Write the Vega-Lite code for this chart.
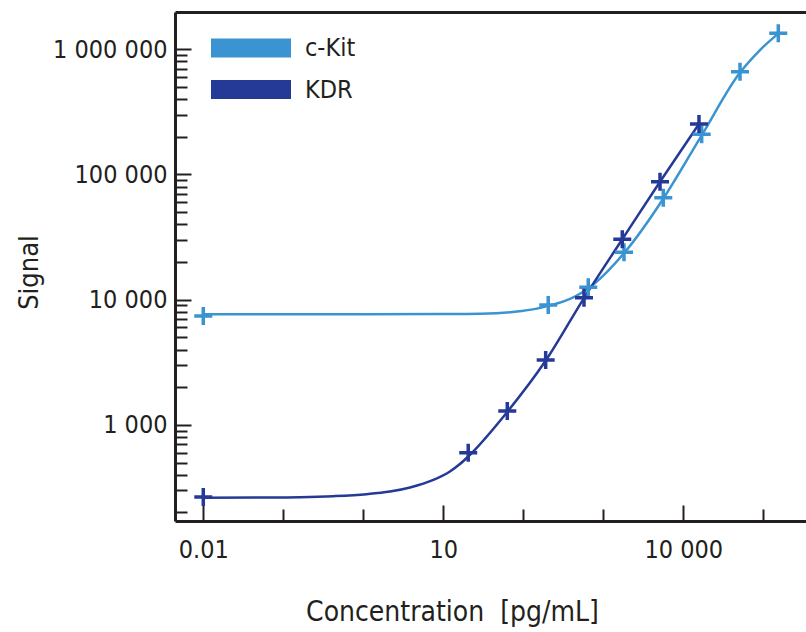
{
  "$schema": "https://vega.github.io/schema/vega-lite/v6.json",
  "width": 631,
  "height": 509,
  "autosize": {"type": "none"},
  "padding": {"left": 175, "top": 12, "right": 0, "bottom": 111},
  "background": "white",
  "config": {
    "view": {"stroke": null},
    "font": "DejaVu Sans Condensed",
    "axis": {
      "grid": false,
      "domainColor": "#231f20",
      "domainWidth": 3,
      "tickColor": "#231f20",
      "tickWidth": 2,
      "labelColor": "#231f20",
      "titleColor": "#231f20",
      "labelFont": "DejaVu Sans Condensed",
      "titleFont": "DejaVu Sans Condensed",
      "labelFontSize": 25,
      "titleFontWeight": "normal"
    },
    "legend": {
      "labelFont": "DejaVu Sans Condensed",
      "labelColor": "#231f20"
    }
  },
  "datasets": {
    "curves": [
      {"conc": 0.01, "signal": 7640, "series": "c-Kit"},
      {"conc": 0.1, "signal": 7640, "series": "c-Kit"},
      {"conc": 1, "signal": 7645, "series": "c-Kit"},
      {"conc": 10, "signal": 7680, "series": "c-Kit"},
      {"conc": 28.8, "signal": 7730, "series": "c-Kit"},
      {"conc": 74, "signal": 7980, "series": "c-Kit"},
      {"conc": 148, "signal": 8480, "series": "c-Kit"},
      {"conc": 205, "signal": 8950, "series": "c-Kit"},
      {"conc": 313, "signal": 9640, "series": "c-Kit"},
      {"conc": 649, "signal": 12300, "series": "c-Kit"},
      {"conc": 1815, "signal": 23500, "series": "c-Kit"},
      {"conc": 5623, "signal": 64000, "series": "c-Kit"},
      {"conc": 16980, "signal": 205000, "series": "c-Kit"},
      {"conc": 51170, "signal": 650000, "series": "c-Kit"},
      {"conc": 91000, "signal": 984000, "series": "c-Kit"},
      {"conc": 154000, "signal": 1330000, "series": "c-Kit"},
      {"conc": 0.01, "signal": 262, "series": "KDR"},
      {"conc": 0.05, "signal": 263, "series": "KDR"},
      {"conc": 0.162, "signal": 265, "series": "KDR"},
      {"conc": 0.422, "signal": 270, "series": "KDR"},
      {"conc": 1.1, "signal": 280, "series": "KDR"},
      {"conc": 2.16, "signal": 294, "series": "KDR"},
      {"conc": 3.84, "signal": 317, "series": "KDR"},
      {"conc": 7.52, "signal": 364, "series": "KDR"},
      {"conc": 12.1, "signal": 425, "series": "KDR"},
      {"conc": 16, "signal": 485, "series": "KDR"},
      {"conc": 20.5, "signal": 560, "series": "KDR"},
      {"conc": 63, "signal": 1270, "series": "KDR"},
      {"conc": 190, "signal": 3250, "series": "KDR"},
      {"conc": 574, "signal": 10300, "series": "KDR"},
      {"conc": 1728, "signal": 30350, "series": "KDR"},
      {"conc": 5117, "signal": 87470, "series": "KDR"},
      {"conc": 15710, "signal": 252500, "series": "KDR"}
    ],
    "points": [
      {"conc": 0.01, "signal": 7413, "series": "c-Kit"},
      {"conc": 205, "signal": 9080, "series": "c-Kit"},
      {"conc": 649, "signal": 12560, "series": "c-Kit"},
      {"conc": 1815, "signal": 23880, "series": "c-Kit"},
      {"conc": 5623, "signal": 65150, "series": "c-Kit"},
      {"conc": 16980, "signal": 209000, "series": "c-Kit"},
      {"conc": 51170, "signal": 661000, "series": "c-Kit"},
      {"conc": 154000, "signal": 1337000, "series": "c-Kit"},
      {"conc": 0.01, "signal": 266, "series": "KDR"},
      {"conc": 20.5, "signal": 601, "series": "KDR"},
      {"conc": 63.1, "signal": 1294, "series": "KDR"},
      {"conc": 190.5, "signal": 3304, "series": "KDR"},
      {"conc": 574, "signal": 10370, "series": "KDR"},
      {"conc": 1728, "signal": 30350, "series": "KDR"},
      {"conc": 5117, "signal": 87470, "series": "KDR"},
      {"conc": 15710, "signal": 252500, "series": "KDR"}
    ]
  },
  "encoding": {
    "y": {
      "field": "signal",
      "type": "quantitative",
      "scale": {"type": "log", "domain": [171, 1980000], "nice": false, "zero": false},
      "axis": {
        "orient": "left",
        "title": "Signal",
        "titleFontSize": 27,
        "titleAngle": -90,
        "titleAlign": "center",
        "titleBaseline": "middle",
        "titleX": -146,
        "titleY": 260,
        "values": [200,300,400,500,600,700,800,900,1000,2000,3000,4000,5000,6000,7000,8000,9000,10000,20000,30000,40000,50000,60000,70000,80000,90000,100000,200000,300000,400000,500000,600000,700000,800000,900000,1000000],
        "labelExpr": "datum.value == 1000 ? '1 000' : datum.value == 10000 ? '10 000' : datum.value == 100000 ? '100 000' : datum.value == 1000000 ? '1 000 000' : ''",
        "tickSize": {"condition": {"test": "datum.value == 1000 || datum.value == 10000 || datum.value == 100000 || datum.value == 1000000", "value": -16}, "value": -12},
        "labelPadding": 24,
        "labelAlign": "right",
        "labelBaseline": "middle",
        "labelOverlap": false,
        "labelBound": false
      }
    }
  },
  "layer": [
    {
      "data": {"name": "curves"},
      "mark": {"type": "line", "interpolate": "monotone", "strokeWidth": 2.5, "clip": true},
      "encoding": {
        "x": {
          "field": "conc",
          "type": "quantitative",
          "scale": {"type": "log", "domain": [0.00443, 342000], "nice": false, "zero": false},
          "axis": {
            "orient": "bottom",
            "title": "Concentration\u00a0 [pg/mL]",
            "titleFontSize": 28,
            "titleX": 277,
            "titleY": 99,
            "titleAlign": "center",
            "titleBaseline": "alphabetic",
            "values": [0.01, 0.1, 1, 10, 100, 1000, 10000, 100000],
            "labelExpr": "datum.value == 0.01 ? '0.01' : datum.value == 10 ? '10' : datum.value == 10000 ? '10 000' : ''",
            "tickSize": {"condition": {"test": "datum.value == 0.01 || datum.value == 10 || datum.value == 10000", "value": -16}, "value": -12},
            "labelPadding": 32,
            "labelBaseline": "top",
            "labelAlign": "center",
            "labelFlush": false,
            "labelOverlap": false,
            "labelBound": false
          }
        },
        "color": {
          "field": "series",
          "type": "nominal",
          "scale": {"domain": ["c-Kit", "KDR"], "range": ["#3a94d2", "#253996"]},
          "legend": {
            "title": null,
            "values": ["c-Kit"],
            "orient": "none",
            "legendX": 56.5,
            "legendY": 16.5,
            "padding": 0,
            "symbolType": "M-4,0H4",
            "symbolSize": 400,
            "symbolStrokeWidth": 19,
            "symbolOpacity": 1,
            "labelFontSize": 25,
            "labelOffset": 34.5
          }
        }
      }
    },
    {
      "data": {"name": "points"},
      "mark": {"type": "point", "shape": "M-1,0H1M0,-1V1", "size": 324, "filled": false, "strokeWidth": 3.5, "opacity": 1, "clip": false},
      "encoding": {
        "x": {
          "field": "conc",
          "type": "quantitative",
          "axis": {
            "orient": "top",
            "title": null,
            "labels": false,
            "ticks": false,
            "domain": true
          }
        },
        "stroke": {
          "field": "series",
          "type": "nominal",
          "scale": {"domain": ["KDR", "c-Kit"], "range": ["#253996", "#3a94d2"]},
          "legend": {
            "title": null,
            "values": ["KDR"],
            "orient": "none",
            "legendX": 56.5,
            "legendY": 58,
            "padding": 0,
            "symbolType": "M-4,0H4",
            "symbolSize": 400,
            "symbolStrokeWidth": 19,
            "symbolOpacity": 1,
            "labelFontSize": 25,
            "labelOffset": 34.5
          }
        }
      }
    }
  ],
  "resolve": {"axis": {"x": "independent"}}
}
